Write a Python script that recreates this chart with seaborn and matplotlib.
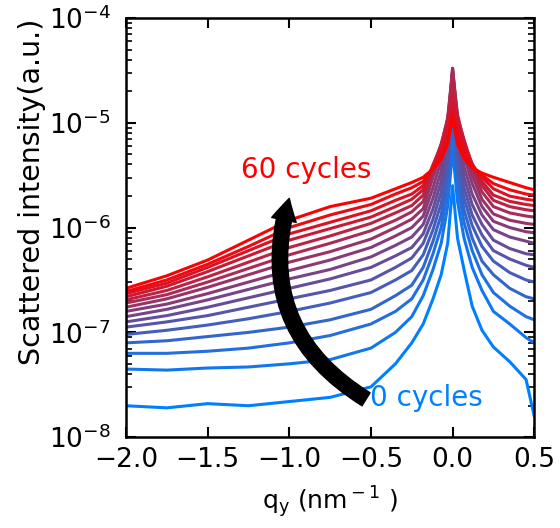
import numpy as np
import pandas as pd
import matplotlib
matplotlib.use("Agg")
import matplotlib.pyplot as plt
import seaborn as sns

# ---------------- data (log10 of scattered intensity) -------------
qy = [-2.0, -1.75, -1.5, -1.25, -1.0, -0.75, -0.5, -0.35, -0.25, -0.18, -0.12, -0.07,
      -0.03, 0.0, 0.03, 0.07, 0.12, 0.18, 0.25, 0.35, 0.45, 0.5]

cycles = [0, 4, 8, 12, 16, 20, 24, 28, 32, 36, 40, 44, 48, 52, 56, 60]

c00 = [-7.70, -7.72, -7.68, -7.70, -7.66, -7.62, -7.52, -7.30, -7.10, -6.92, -6.68, -6.45, -6.15, -5.60, -6.10, -6.40, -6.75, -6.98, -7.14, -7.28, -7.45, -7.80]
c04 = [-7.35, -7.36, -7.34, -7.33, -7.30, -7.26, -7.15, -7.00, -6.85, -6.65, -6.40, -6.15, -5.80, -5.25, -5.75, -6.10, -6.38, -6.60, -6.80, -6.92, -7.05, -7.10]
c08 = [-7.20, -7.20, -7.18, -7.15, -7.10, -7.03, -6.92, -6.80, -6.68, -6.50, -6.25, -6.00, -5.65, -5.05, -5.60, -5.95, -6.22, -6.45, -6.62, -6.75, -6.85, -6.88]
c12 = [-7.10, -7.08, -7.04, -7.00, -6.95, -6.88, -6.78, -6.65, -6.55, -6.38, -6.13, -5.88, -5.52, -4.90, -5.48, -5.83, -6.10, -6.32, -6.45, -6.58, -6.66, -6.68]
c16 = [-7.02, -6.98, -6.93, -6.87, -6.80, -6.72, -6.62, -6.50, -6.41, -6.26, -6.02, -5.77, -5.42, -4.75, -5.38, -5.72, -5.98, -6.18, -6.32, -6.43, -6.50, -6.52]
c20 = [-6.95, -6.90, -6.84, -6.76, -6.68, -6.60, -6.50, -6.38, -6.29, -6.15, -5.92, -5.66, -5.32, -4.62, -5.28, -5.62, -5.88, -6.07, -6.22, -6.30, -6.36, -6.38]
c24 = [-6.90, -6.84, -6.76, -6.67, -6.58, -6.49, -6.38, -6.27, -6.19, -6.06, -5.82, -5.56, -5.22, -4.54, -5.18, -5.52, -5.78, -5.97, -6.12, -6.20, -6.25, -6.26]
c28 = [-6.85, -6.78, -6.69, -6.59, -6.49, -6.40, -6.28, -6.17, -6.09, -5.97, -5.72, -5.46, -5.12, -4.49, -5.08, -5.42, -5.68, -5.88, -6.02, -6.09, -6.13, -6.15]
c32 = [-6.80, -6.73, -6.63, -6.52, -6.41, -6.31, -6.19, -6.08, -6.00, -5.89, -5.62, -5.36, -5.04, -4.48, -5.00, -5.32, -5.58, -5.80, -5.94, -6.00, -6.04, -6.05]
c36 = [-6.76, -6.68, -6.57, -6.45, -6.33, -6.23, -6.11, -6.00, -5.92, -5.82, -5.52, -5.28, -4.98, -4.48, -4.95, -5.24, -5.50, -5.73, -5.87, -5.93, -5.96, -5.97]
c40 = [-6.72, -6.64, -6.52, -6.39, -6.26, -6.15, -6.03, -5.93, -5.85, -5.75, -5.45, -5.22, -4.95, -4.52, -4.92, -5.18, -5.44, -5.66, -5.80, -5.86, -5.89, -5.90]
c44 = [-6.69, -6.60, -6.47, -6.33, -6.19, -6.08, -5.96, -5.86, -5.79, -5.69, -5.42, -5.20, -4.97, -4.62, -4.95, -5.16, -5.41, -5.60, -5.74, -5.80, -5.83, -5.84]
c48 = [-6.66, -6.56, -6.42, -6.27, -6.12, -6.01, -5.90, -5.80, -5.73, -5.64, -5.40, -5.22, -5.02, -4.75, -5.00, -5.19, -5.39, -5.56, -5.69, -5.75, -5.78, -5.79]
c52 = [-6.63, -6.53, -6.38, -6.22, -6.06, -5.95, -5.84, -5.74, -5.68, -5.60, -5.42, -5.26, -5.08, -4.85, -5.06, -5.23, -5.40, -5.52, -5.63, -5.70, -5.73, -5.74]
c56 = [-6.61, -6.50, -6.35, -6.18, -6.00, -5.88, -5.78, -5.68, -5.62, -5.56, -5.43, -5.31, -5.15, -4.92, -5.13, -5.28, -5.42, -5.50, -5.58, -5.64, -5.68, -5.69]
c60 = [-6.58, -6.46, -6.31, -6.12, -5.93, -5.80, -5.72, -5.63, -5.57, -5.52, -5.44, -5.35, -5.20, -4.95, -5.20, -5.34, -5.43, -5.48, -5.52, -5.57, -5.62, -5.64]

curves = [c00, c04, c08, c12, c16, c20, c24, c28, c32, c36, c40, c44, c48, c52, c56, c60]

xticks = [-2.0, -1.5, -1.0, -0.5, 0.0, 0.5]
yticks = [1e-8, 1e-7, 1e-6, 1e-5, 1e-4]

# ---------------- build table ----------------
rows = []
for cyc, vals in zip(cycles, curves):
    for q, v in zip(qy, vals):
        rows.append({"qy": q, "I": 10.0 ** v, "cycles": cyc})
df = pd.DataFrame(rows)

blue = np.array([0.0, 0.5, 1.0])
red = np.array([1.0, 0.0, 0.0])
n = len(cycles)
palette = [tuple(blue + (red - blue) * i / (n - 1)) for i in range(n)]

# ---------------- style ----------------
sns.set_theme(style="ticks")
plt.rcParams["font.family"] = ["DejaVu Sans"]
plt.rcParams["mathtext.default"] = "regular"
plt.rcParams["text.color"] = "black"
plt.rcParams["axes.labelcolor"] = "black"
plt.rcParams["xtick.color"] = "black"
plt.rcParams["ytick.color"] = "black"

fig = plt.figure(figsize=(5.6, 5.28), dpi=100)
ax = fig.add_axes([0.225, 0.172, 0.729, 0.794])

sns.lineplot(data=df, x="qy", y="I", hue="cycles", palette=palette,
             estimator=None, legend=False, lw=2.2, ax=ax)

ax.set_yscale("log")
ax.set_xlim(-2.0, 0.5)
ax.set_ylim(1e-8, 1e-4)
ax.set_xticks(xticks)
ax.set_xticklabels([f"{t:.1f}".replace("-", "\u2212") for t in xticks])
ax.set_yticks(yticks)
ax.yaxis.set_minor_locator(matplotlib.ticker.LogLocator(base=10, subs=np.arange(2, 10)))
ax.yaxis.set_minor_formatter(matplotlib.ticker.NullFormatter())

ax.tick_params(axis="both", which="major", direction="in", length=7, width=1.5,
               labelsize=19, top=True, right=True, colors="black")
ax.tick_params(axis="x", which="major", pad=7)
ax.tick_params(axis="y", which="major", pad=11)
ax.tick_params(axis="y", which="minor", direction="in", length=4, width=1.2,
               right=True, left=True, colors="black")
for s in ax.spines.values():
    s.set_linewidth(1.8)
    s.set_color("black")

ax.set_xlabel(r"q$_{\rm y}$ (nm$^{\rm -1}$ )", fontsize=18, labelpad=8)
ax.set_ylabel("Scattered intensity(a.u.)", fontsize=20.5)
ax.yaxis.set_label_coords(-0.195, 0.585)

ax.text(-0.895, 3.54e-6, "60 cycles", color="red", fontsize=20, ha="center", va="center")
ax.text(-0.505, 2.35e-8, "0 cycles", color=palette[0], fontsize=20, ha="left", va="center")

ax.annotate("", xy=(-1.0, 1.9e-6), xytext=(-0.53, 2.3e-8),
            arrowprops=dict(arrowstyle="simple,head_width=0.9,head_length=0.8,tail_width=0.55",
                            connectionstyle="arc3,rad=-0.38", color="black",
                            mutation_scale=20, shrinkA=0, shrinkB=0))

fig.savefig("out.png", dpi=100)
